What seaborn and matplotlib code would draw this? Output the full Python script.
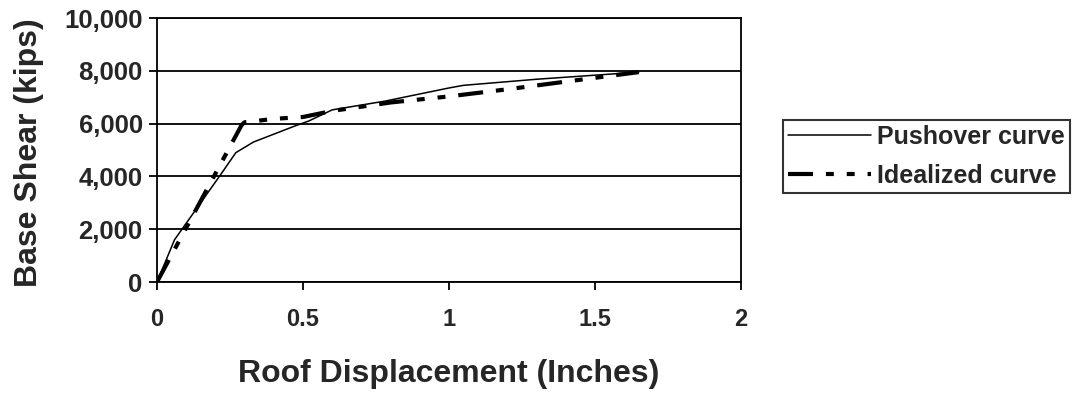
import matplotlib
matplotlib.use("Agg")
import matplotlib.pyplot as plt
import numpy as np
import pandas as pd
import seaborn as sns
from matplotlib.ticker import FuncFormatter

# Data
push_x = [0, 0.06, 0.22, 0.27, 0.33, 0.47, 0.52, 0.60, 0.78, 1.00, 1.05, 1.30, 1.65]
push_y = [0, 1600, 4100, 4900, 5300, 5900, 6100, 6520, 6850, 7350, 7450, 7680, 7950]
ideal_x = [0, 0.29, 0.30, 0.40, 0.50, 0.60, 0.80, 1.00, 1.20, 1.40, 1.65]
ideal_y = [0, 5950, 6050, 6180, 6250, 6480, 6800, 7030, 7300, 7590, 7950]
x_ticks = [0, 0.5, 1, 1.5, 2]
y_ticks = [0, 2000, 4000, 6000, 8000, 10000]

sns.set_style("white")
plt.rcParams['font.family'] = ['Liberation Sans', 'DejaVu Sans']
plt.rcParams['font.weight'] = 'bold'

fig = plt.figure(figsize=(10.79, 3.95), dpi=100)
ax = fig.add_axes([157/1079, 1-282/395, (741-157)/1079, (282-18)/395])

push_df = pd.DataFrame({"x": push_x, "y": push_y})
ideal_df = pd.DataFrame({"x": ideal_x, "y": ideal_y})

sns.lineplot(data=push_df, x="x", y="y", ax=ax, color="black", linewidth=1.1,
             label="Pushover curve", sort=False)
sns.lineplot(data=ideal_df, x="x", y="y", ax=ax, color="black", linewidth=3.0,
             label="Idealized curve", sort=False)
ax.lines[1].set_dashes([6, 3.1, 1.9, 3.1, 1.9, 3.1])

ax.set_xlim(0, 2)
ax.set_ylim(0, 10000)
ax.set_xticks(x_ticks)
ax.set_yticks(y_ticks)
ax.xaxis.set_major_formatter(FuncFormatter(lambda v, p: f"{v:g}"))
ax.yaxis.set_major_formatter(FuncFormatter(lambda v, p: f"{int(v):,}"))
ax.grid(axis="y", color="black", linewidth=1.3)
ax.set_axisbelow(True)
for s in ax.spines.values():
    s.set_color("black")
    s.set_linewidth(1.3)
ax.tick_params(axis="both", direction="out", length=6, width=1.3, color="black",
               bottom=True, left=True)
ax.tick_params(axis="x", labelsize=17, pad=12.5)
ax.tick_params(axis="y", labelsize=18.5, pad=4.3)
for lab in ax.get_xticklabels() + ax.get_yticklabels():
    lab.set_fontweight("bold")

ax.set_xlabel("Roof Displacement (Inches)", fontsize=23, fontweight="bold", va="top")
ax.set_ylabel("Base Shear (kips)", fontsize=23, fontweight="bold")
ax.xaxis.set_label_coords(0.5, (282-359)/264)
ax.yaxis.set_label_coords((44-157)/584, (282-153)/264)

ax.get_legend().remove()
handles, labels = ax.get_legend_handles_labels()
leg = fig.legend(handles, labels, loc="lower left",
                 bbox_to_anchor=(783/1079, 1-193/395), frameon=True,
                 fancybox=False, edgecolor="black", fontsize=18,
                 handlelength=3.3, handletextpad=0.25, borderpad=0.2,
                 labelspacing=0.6, borderaxespad=0)
leg.get_frame().set_linewidth(1.5)
for t in leg.get_texts():
    t.set_fontweight("bold")

fig.savefig("out.png", dpi=100)
